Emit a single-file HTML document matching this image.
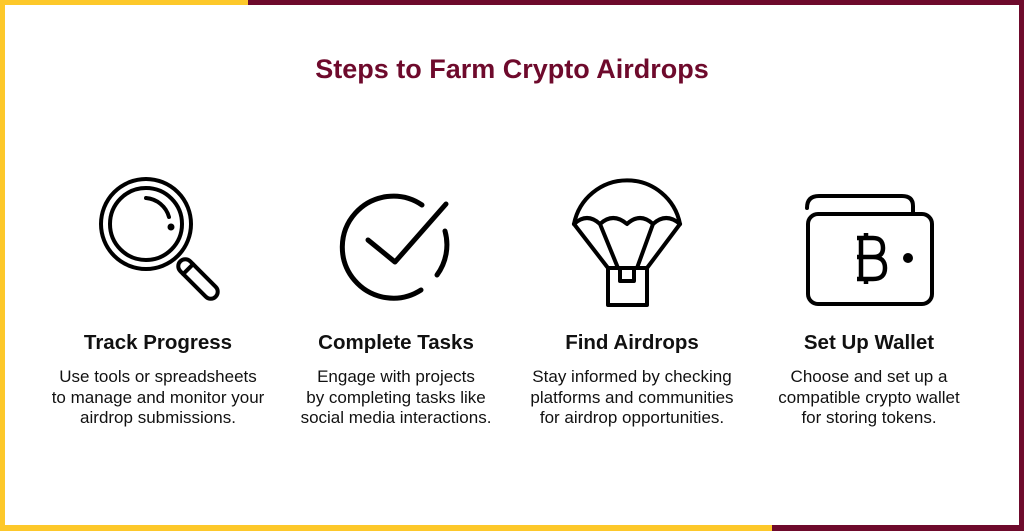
<!DOCTYPE html>
<html><head><meta charset="utf-8"><style>
html,body{margin:0;padding:0}
body{width:1024px;height:531px;position:relative;background:#fff;overflow:hidden;font-family:"Liberation Sans",Arial,sans-serif}
.b{position:absolute}
.t{position:absolute;left:0;width:1024px;text-align:center;top:54px;font-size:27px;font-weight:bold;color:#6e0a2c}
.col{position:absolute;top:330px;width:300px;text-align:center;color:#111}
.col h3{margin:0;font-size:20.5px;font-weight:bold;height:37px;line-height:25px}
.col p{margin:0;font-size:17px;line-height:20.5px}
</style></head><body>
<div class="b" style="left:0;top:0;width:250px;height:5px;background:#fdc82a"></div>
<div class="b" style="left:248px;top:0;width:776px;height:5px;background:#6e0a2c"></div>
<div class="b" style="left:0;top:0;width:5px;height:531px;background:#fdc82a"></div>
<div class="b" style="right:0;top:0;width:5px;height:531px;background:#6e0a2c"></div>
<div class="b" style="left:0;bottom:0;width:775px;height:6px;background:#fdc82a"></div>
<div class="b" style="left:772px;bottom:0;width:252px;height:6px;background:#6e0a2c"></div>
<div class="t">Steps to Farm Crypto Airdrops</div>
<svg class="b" style="left:0;top:0" width="1024" height="531" fill="none" stroke="#000" stroke-width="4" stroke-linecap="round" stroke-linejoin="round">
<circle cx="146" cy="224" r="45"/>
<circle cx="146" cy="224" r="36"/>
<path d="M146 198 A26 26 0 0 1 169 217"/>
<circle cx="171" cy="227" r="1.5" fill="#000"/>
<g transform="translate(198,279) rotate(-45)">
<rect x="-7" y="-25" width="14" height="50" rx="7"/>
<line x1="-7" y1="-14" x2="7" y2="-14"/>
</g>
<path d="M421 290 A51 51 0 1 1 422 205" stroke-width="5"/>
<path d="M445 231 A51 51 0 0 1 437 275" stroke-width="5"/>
<path d="M368 240 L395 262 L446 204" stroke-width="5"/>
<path d="M574 224 A54 54 0 0 1 680 224"/>
<path d="M574 224 Q587 212 600 224 Q613 212 627 224 Q640 212 653 224 Q666 212 680 224"/>
<path d="M574 224 L608 268 M600 224 L618 268 M653 224 L637 268 M680 224 L647 268"/>
<rect x="608" y="268" width="39" height="37"/>
<rect x="620" y="268" width="14" height="13"/>
<path d="M807 208 Q807 196 819 196 L902 196 Q913 196 913 206 L913 214"/>
<rect x="808" y="214" width="124" height="90" rx="10"/>
<line x1="828" y1="214" x2="913" y2="214"/>
<circle cx="908" cy="258" r="5" fill="#000" stroke="none"/>
<path d="M857 238 L873 238 Q883 238 883 248 Q883 257 873 257 L857 257 M873 257 Q885 257 885 268 Q885 279 873 279 L857 279 M861 238 L861 279 M866 233 L866 238 M866 279 L866 284" stroke-width="4.5" stroke-linecap="butt" stroke-linejoin="miter"/>
</svg>
<div class="col" style="left:8px"><h3>Track Progress</h3><p>Use tools or spreadsheets<br>to manage and monitor your<br>airdrop submissions.</p></div>
<div class="col" style="left:246px"><h3>Complete Tasks</h3><p>Engage with projects<br>by completing tasks like<br>social media interactions.</p></div>
<div class="col" style="left:482px"><h3>Find Airdrops</h3><p>Stay informed by checking<br>platforms and communities<br>for airdrop opportunities.</p></div>
<div class="col" style="left:719px"><h3>Set Up Wallet</h3><p>Choose and set up a<br>compatible crypto wallet<br>for storing tokens.</p></div>
</body></html>
